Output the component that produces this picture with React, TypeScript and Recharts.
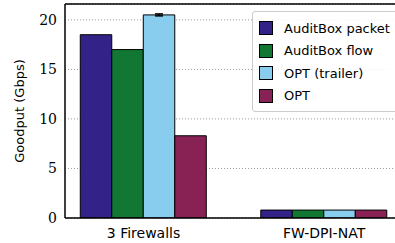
import React from "react";
import {
  BarChart,
  Bar,
  XAxis,
  YAxis,
  CartesianGrid,
  Legend,
  ReferenceLine,
  ErrorBar,
} from "recharts";

const categories = ["3 Firewalls", "FW-DPI-NAT"];
const auditPacket = [18.5, 0.8];
const auditFlow = [17.0, 0.8];
const optTrailer = [20.5, 0.8];
const optTrailerErr = [0.1, 0];
const opt = [8.3, 0.8];
const yTicks = [0, 5, 10, 15, 20];

const series = [
  { key: "auditPacket", name: "AuditBox packet", color: "#332288" },
  { key: "auditFlow", name: "AuditBox flow", color: "#117733" },
  { key: "optTrailer", name: "OPT (trailer)", color: "#88CCEE" },
  { key: "opt", name: "OPT", color: "#882255" },
];

const data = categories.map((c, i) => ({
  x: i,
  name: c,
  auditPacket: auditPacket[i],
  auditFlow: auditFlow[i],
  optTrailer: optTrailer[i],
  err: optTrailerErr[i],
  opt: opt[i],
}));

const Y_MAX = 21.6;
const SANS = "'DejaVu Sans', sans-serif";

function LegendBox() {
  return (
    <div
      style={{
        border: "1px solid #cccccc",
        borderRadius: 3,
        background: "rgba(255,255,255,0.85)",
        padding: "5px 0 4px 6px",
        fontFamily: SANS,
        fontSize: 13,
        color: "#000",
      }}
    >
      {series.map((s) => (
        <div
          key={s.key}
          style={{ display: "flex", alignItems: "center", height: 22.5 }}
        >
          <span
            style={{
              display: "inline-block",
              width: 12,
              height: 12,
              background: s.color,
              border: "1px solid #000",
              marginRight: 11,
            }}
          />
          <span>{s.name}</span>
        </div>
      ))}
    </div>
  );
}

export default function App() {
  return (
    <div
      style={{
        position: "absolute",
        left: 0,
        top: 0,
        width: 395,
        height: 243,
        overflow: "hidden",
        background: "#fff",
      }}
    >
      <BarChart
        width={395}
        height={243}
        data={data}
        margin={{ top: 4, right: 0, bottom: 0, left: 0 }}
        barGap={0}
        barSize={31.5}
      >
        <CartesianGrid
          vertical={false}
          stroke="#999"
          strokeDasharray="1 2"
        />
        <XAxis
          type="number"
          dataKey="x"
          domain={[-0.435, 1.393]}
          ticks={[0, 1]}
          tickFormatter={(v) => categories[v] ?? ""}
          height={25}
          tickLine={false}
          tickMargin={4}
          axisLine={{ stroke: "#000", strokeWidth: 1.5 }}
          tick={{ fill: "#000", fontSize: 14, fontFamily: SANS }}
          allowDataOverflow
        />
        <YAxis
          width={65}
          domain={[0, Y_MAX]}
          ticks={yTicks}
          tickLine={false}
          axisLine={{ stroke: "#000", strokeWidth: 1.5 }}
          tick={{ fill: "#000", fontSize: 14, fontFamily: "'DejaVu Serif', serif" }}
          allowDataOverflow
          label={{
            value: "Goodput (Gbps)",
            angle: -90,
            position: "insideLeft",
            offset: 19,
            style: {
              textAnchor: "middle",
              fontFamily: SANS,
              fontSize: 13,
              fill: "#000",
            },
          }}
        />
        <ReferenceLine y={Y_MAX} stroke="#000" strokeWidth={1.5} />
        {series.map((s) => (
          <Bar
            key={s.key}
            dataKey={s.key}
            name={s.name}
            fill={s.color}
            stroke="#000"
            strokeWidth={1}
            isAnimationActive={false}
          >
            {s.key === "optTrailer" && (
              <ErrorBar
                dataKey="err"
                width={4}
                stroke="#000"
                strokeWidth={1.5}
                isAnimationActive={false}
              />
            )}
          </Bar>
        ))}
        <Legend
          layout="horizontal"
          verticalAlign="middle"
          align="center"
          content={() => <LegendBox />}
          wrapperStyle={{ top: 11, left: 252, width: 160, bottom: "auto" }}
        />
      </BarChart>
    </div>
  );
}
